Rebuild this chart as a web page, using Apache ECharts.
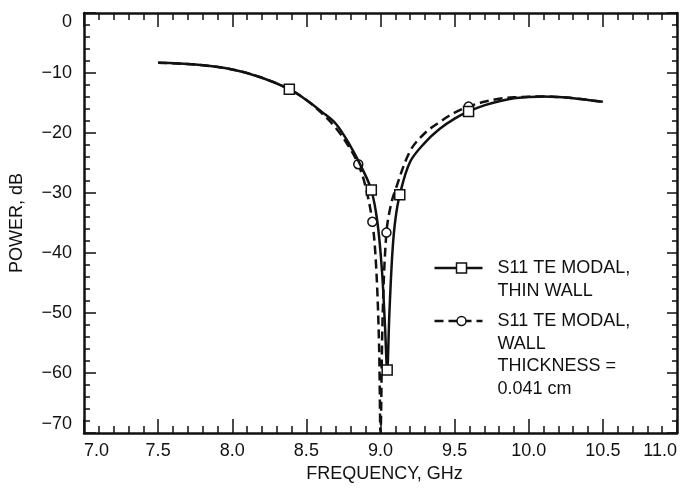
<!DOCTYPE html>
<html>
<head>
<meta charset="utf-8">
<script src="https://cdn.jsdelivr.net/npm/echarts@6/dist/echarts.min.js"></script>
<style>
  html, body { margin: 0; padding: 0; background: #fff; }
  #chart { width: 683px; height: 489px; }
</style>
</head>
<body>
<div id="chart"></div>
<script>
// S11 response, thin wall (solid line, square markers)
const thinWallFreq = [7.5, 7.75, 8.0, 8.2, 8.385, 8.5, 8.6, 8.7, 8.8, 8.87, 8.938, 8.98, 9.01, 9.03, 9.045,
  9.06, 9.08, 9.1, 9.13, 9.2, 9.3, 9.4, 9.5, 9.594, 9.7, 9.8, 9.9, 10.0, 10.1, 10.2, 10.3, 10.4, 10.5];
const thinWallPower = [-8.3, -8.6, -9.4, -10.8, -12.7, -14.5, -16.4, -18.5, -22.3, -25.6, -29.5, -35, -43, -52, -59.5,
  -50, -40, -34.5, -30.3, -24.8, -21.6, -19.3, -17.6, -16.4, -15.4, -14.7, -14.2, -14.0, -13.9, -14.0, -14.2, -14.5, -14.8];
const thinWallMarkers = [8.385, 8.938, 9.045, 9.13, 9.594];

// S11 response, wall thickness 0.041 cm (dashed line, circle markers)
const thickWallFreq = [7.5, 7.75, 8.0, 8.2, 8.385, 8.5, 8.6, 8.7, 8.78, 8.85, 8.9, 8.945, 8.97, 8.99, 9.0,
  9.015, 9.04, 9.07, 9.1, 9.2, 9.3, 9.41, 9.5, 9.594, 9.7, 9.8, 9.9, 10.0, 10.1, 10.2, 10.3, 10.4, 10.5];
const thickWallPower = [-8.3, -8.6, -9.4, -10.8, -12.7, -14.5, -16.6, -19.2, -22, -25.2, -29, -34.8, -42, -55, -70,
  -50, -36.6, -32, -29.5, -23, -20, -18, -16.6, -15.6, -14.8, -14.3, -14.05, -13.95, -13.9, -14.0, -14.2, -14.5, -14.8];
const thickWallMarkers = [8.85, 8.945, 9.04, 9.594];

const xTicks = { min: 7.0, max: 11.0, step: 0.5 };
const yTicks = { min: -70, max: 0, step: 10 };

const seriesNames = ['S11 TE MODAL,\nTHIN WALL', 'S11 TE MODAL,\nWALL\nTHICKNESS =\n0.041 cm'];

const FONT = 'Liberation Sans, Arial, Helvetica, sans-serif';
const INK = '#111';

// Points carry a symbol only where a marker belongs
function buildData(freqs, powers, marks) {
  return freqs.map((f, i) => {
    const item = { value: [f, powers[i]] };
    if (!marks.includes(f)) item.symbol = 'none';
    return item;
  });
}

const chart = echarts.init(document.getElementById('chart'), null, { renderer: 'canvas' });

const axisCommon = {
  axisLine: { show: true, onZero: false, lineStyle: { color: INK, width: 2.5 } },
  splitLine: { show: false },
  minorSplitLine: { show: false }
};

const fmtMinus = v => String(v).replace('-', '\u2212');

chart.setOption({
  animation: false,
  backgroundColor: '#fff',
  grid: { left: 84, right: 6, top: 13, bottom: 56, containLabel: false },
  xAxis: [
    Object.assign({}, axisCommon, {
      type: 'value', position: 'bottom',
      min: xTicks.min, max: xTicks.max, interval: xTicks.step,
      axisTick: { show: true, inside: true, length: 14, lineStyle: { color: INK, width: 1.5 } },
      minorTick: { show: true, splitNumber: 5, length: 7, lineStyle: { color: INK, width: 1.5 } },
      axisLabel: { color: INK, fontFamily: FONT, fontSize: 18, margin: 9,
        alignMinLabel: 'left', alignMaxLabel: 'right',
        formatter: v => v.toFixed(1) },
      name: 'FREQUENCY, GHz', nameLocation: 'middle', nameGap: 30,
      nameTextStyle: { color: INK, fontFamily: FONT, fontSize: 18, padding: [0, 0, 0, 8] }
    }),
    Object.assign({}, axisCommon, {
      type: 'value', position: 'top',
      min: xTicks.min, max: xTicks.max, interval: xTicks.step,
      axisTick: { show: true, inside: true, length: 14, lineStyle: { color: INK, width: 1.5 } },
      minorTick: { show: true, splitNumber: 5, length: 7, lineStyle: { color: INK, width: 1.5 } },
      axisLabel: { show: false }
    })
  ],
  yAxis: [
    Object.assign({}, axisCommon, {
      type: 'value', position: 'left',
      min: yTicks.min, max: yTicks.max, interval: yTicks.step,
      axisTick: { show: true, inside: true, length: 12, lineStyle: { color: INK, width: 1.5 } },
      minorTick: { show: true, splitNumber: 5, length: 6, lineStyle: { color: INK, width: 1.5 } },
      axisLabel: { color: INK, fontFamily: FONT, fontSize: 18, margin: 12, formatter: fmtMinus,
        verticalAlignMinLabel: 'bottom', verticalAlignMaxLabel: 'top' },
      name: 'POWER, dB', nameLocation: 'middle', nameGap: 58, nameRotate: 90,
      nameTextStyle: { color: INK, fontFamily: FONT, fontSize: 18 }
    }),
    Object.assign({}, axisCommon, {
      type: 'value', position: 'right',
      min: yTicks.min, max: yTicks.max, interval: yTicks.step,
      axisTick: { show: true, inside: true, length: 10, lineStyle: { color: INK, width: 1.5 } },
      minorTick: { show: true, splitNumber: 5, length: 5, lineStyle: { color: INK, width: 1.5 } },
      axisLabel: { show: false }
    })
  ],
  series: [
    {
      name: seriesNames[1], type: 'line', xAxisIndex: 0, yAxisIndex: 0,
      data: buildData(thickWallFreq, thickWallPower, thickWallMarkers),
      smooth: 0.35, clip: true,
      showSymbol: true, showAllSymbol: true,
      symbol: 'circle', symbolSize: 9,
      itemStyle: { color: '#fff', borderColor: INK, borderWidth: 1.5 },
      lineStyle: { color: INK, width: 2.5, type: [9, 5] },
      z: 3
    },
    {
      name: seriesNames[0], type: 'line', xAxisIndex: 0, yAxisIndex: 0,
      data: buildData(thinWallFreq, thinWallPower, thinWallMarkers),
      smooth: 0.35, clip: true,
      showSymbol: true, showAllSymbol: true,
      symbol: 'rect', symbolSize: 10,
      itemStyle: { color: '#fff', borderColor: INK, borderWidth: 1.5 },
      lineStyle: { color: INK, width: 2.5 },
      z: 4
    }
  ],
  // Key: sample line with its marker, then the multi-line caption
  graphic: [
    {
      type: 'group', left: 432, top: 257,
      children: [
        { type: 'line', shape: { x1: 0, y1: 11, x2: 48, y2: 11 }, style: { stroke: INK, lineWidth: 2.5 } },
        { type: 'rect', shape: { x: 22, y: 6, width: 10, height: 10 }, style: { fill: '#fff', stroke: INK, lineWidth: 1.5 } },
        { type: 'text', left: 63, top: 0,
          style: { text: seriesNames[0], fill: INK, font: '18px ' + FONT, lineHeight: 22.5 } }
      ]
    },
    {
      type: 'group', left: 432, top: 310,
      children: [
        { type: 'line', shape: { x1: 0, y1: 11, x2: 48, y2: 11 }, style: { stroke: INK, lineWidth: 2.5, lineDash: [9, 5] } },
        { type: 'circle', shape: { cx: 27, cy: 11, r: 4.5 }, style: { fill: '#fff', stroke: INK, lineWidth: 1.5 } },
        { type: 'text', left: 63, top: 0,
          style: { text: seriesNames[1], fill: INK, font: '18px ' + FONT, lineHeight: 22.5 } }
      ]
    }
  ]
});
</script>
</body>
</html>
